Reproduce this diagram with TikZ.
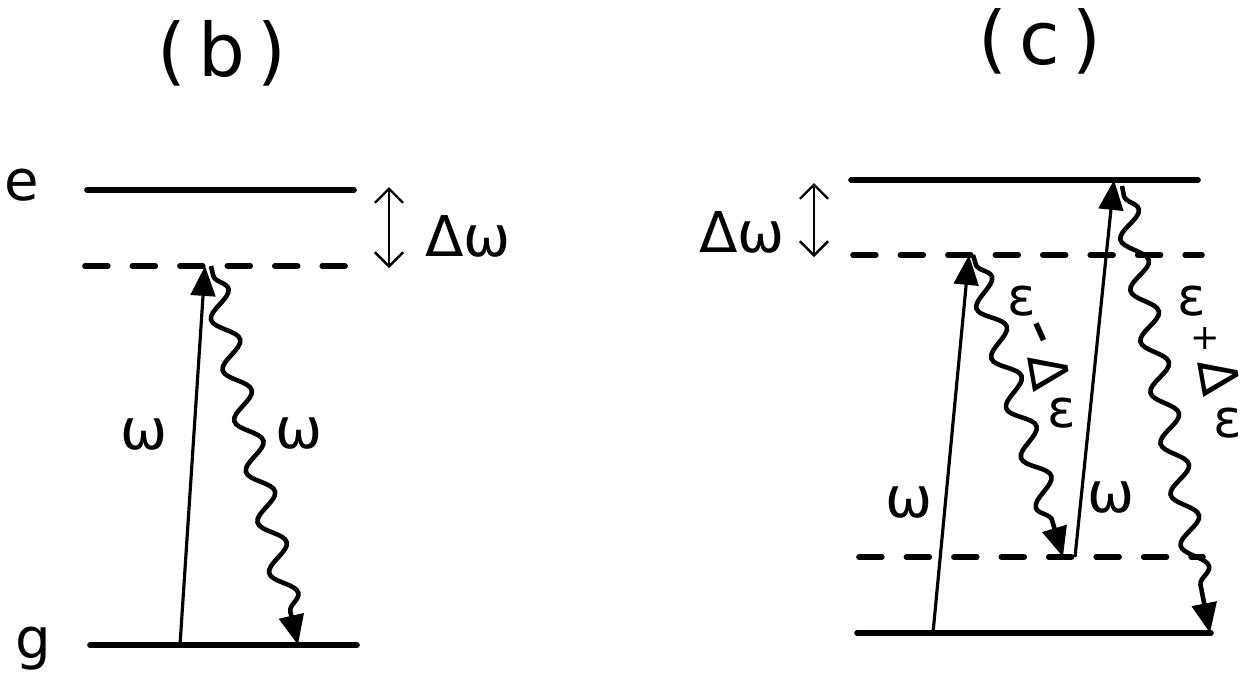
\documentclass[tikz,border=0pt]{standalone}
\usepackage{fontspec}
\setmainfont{DejaVu Sans}
\usetikzlibrary{arrows.meta,decorations.pathmorphing}

\begin{document}
\begin{tikzpicture}[>={Triangle[length=8.5pt,width=7pt]},
  level/.style={line width=1.6pt,line cap=round},
  virt/.style={line width=1.6pt,line cap=round,dash pattern=on 6.5pt off 7pt},
  pump/.style={->,line width=0.9pt},
  photon/.style={->,line width=1.3pt,decorate,
    decoration={snake,amplitude=0.12cm,segment length=0.52cm,
      pre length=0.1cm,post length=0.3cm}},
  gap/.style={line width=0.7pt,{Straight Barb[length=4pt]}-{Straight Barb[length=4pt]}},
  lbl/.style={font=\fontsize{16}{19}\selectfont,inner sep=0pt},
  sbl/.style={font=\fontsize{15}{18}\selectfont,inner sep=0pt},
  ttl/.style={font=\fontsize{21}{25}\selectfont,inner sep=0pt}]

\useasboundingbox (0,0) rectangle (12.46,6.74);

%=== Panel (b): one virtual level ===
\def\yeb{4.84}
\def\yvb{4.08}
\def\ygb{0.29}

\node[ttl] (t-b) at (2.22,6.21) {(\,b\,)};

% levels
\draw[level] (0.87,\yeb) -- (3.54,\yeb);
\draw[virt]  (0.85,\yvb) -- (3.53,\yvb);
\draw[level] (0.90,\ygb) -- (3.57,\ygb);

\node[lbl] (e-b) at (0.22,4.89) {e};
\node[lbl] (g-b) at (0.33,0.25) {g};

% detuning
\coordinate (gap-b0) at (3.89,4.87);
\coordinate (gap-b1) at (3.89,4.06);
\draw[gap] (gap-b0) -- (gap-b1);
\node[lbl] (dw-b) at (4.68,4.38) {Δω};

% absorption and emission
\coordinate (up-b0) at (1.80,\ygb);
\coordinate (up-b1) at (2.05,\yvb);
\coordinate (em-b0) at (2.11,\yvb);
\coordinate (em-b1) at (2.98,\ygb);
\draw[pump]   (up-b0) -- (up-b1);
\draw[photon] (em-b0) -- (em-b1);

\node[lbl] (w-b1) at (1.44,2.39) {ω};
\node[lbl] (w-b2) at (2.99,2.40) {ω};

%=== Panel (c): two virtual levels ===
\def\yec{4.94}
\def\yvc{4.19}
\def\ylc{1.17}
\def\ygc{0.41}

\node[ttl] (t-c) at (10.40,6.33) {(\,c\,)};

% levels
\draw[level] (8.51,\yec) -- (11.98,\yec);
\draw[virt]  (8.53,\yvc) -- (12.02,\yvc);
\draw[virt]  (8.59,\ylc) -- (12.03,\ylc);
\draw[level] (8.57,\ygc) -- (12.11,\ygc);

% detuning
\coordinate (gap-c0) at (8.14,4.91);
\coordinate (gap-c1) at (8.14,4.17);
\draw[gap] (gap-c0) -- (gap-c1);
\node[lbl] (dw-c) at (7.42,4.42) {Δω};

% pump photons
\coordinate (up-c0) at (9.33,\ygc);
\coordinate (up-c1) at (9.69,\yvc);
\coordinate (up-c2) at (10.75,\ylc);
\coordinate (up-c3) at (11.14,\yec);
\draw[pump] (up-c0) -- (up-c1);
\draw[pump] (up-c2) -- (up-c3);

\node[lbl] (w-c1) at (9.09,1.71) {ω};
\node[lbl] (w-c2) at (11.11,1.76) {ω};

% emitted sidebands
\coordinate (em-c0) at (9.73,\yvc);
\coordinate (em-c1) at (10.63,\ylc);
\coordinate (em-c2) at (11.22,4.88);
\coordinate (em-c3) at (12.10,\ygc);
\draw[photon] (em-c0) -- (em-c1);
\draw[photon] (em-c2) -- (em-c3);

% lower sideband label
\node[sbl] (eps-m1) at (10.22,3.73) {ε};
\node[sbl,font=\fontsize{20}{24}\selectfont,rotate=-66] (dash-m) at (10.33,3.38) {-};
\node[sbl,rotate=-80] (del-m) at (10.50,3.02) {Δ};
\node[sbl] (eps-m2) at (10.62,2.61) {ε};

% upper sideband label
\node[sbl] (eps-p1) at (11.92,3.73) {ε};
\node[sbl,font=\fontsize{10}{12}\selectfont] (plus-p) at (12.05,3.36) {+};
\node[sbl,rotate=-80] (del-p) at (12.20,2.97) {Δ};
\node[sbl] (eps-p2) at (12.28,2.51) {ε};

\end{tikzpicture}
\end{document}
